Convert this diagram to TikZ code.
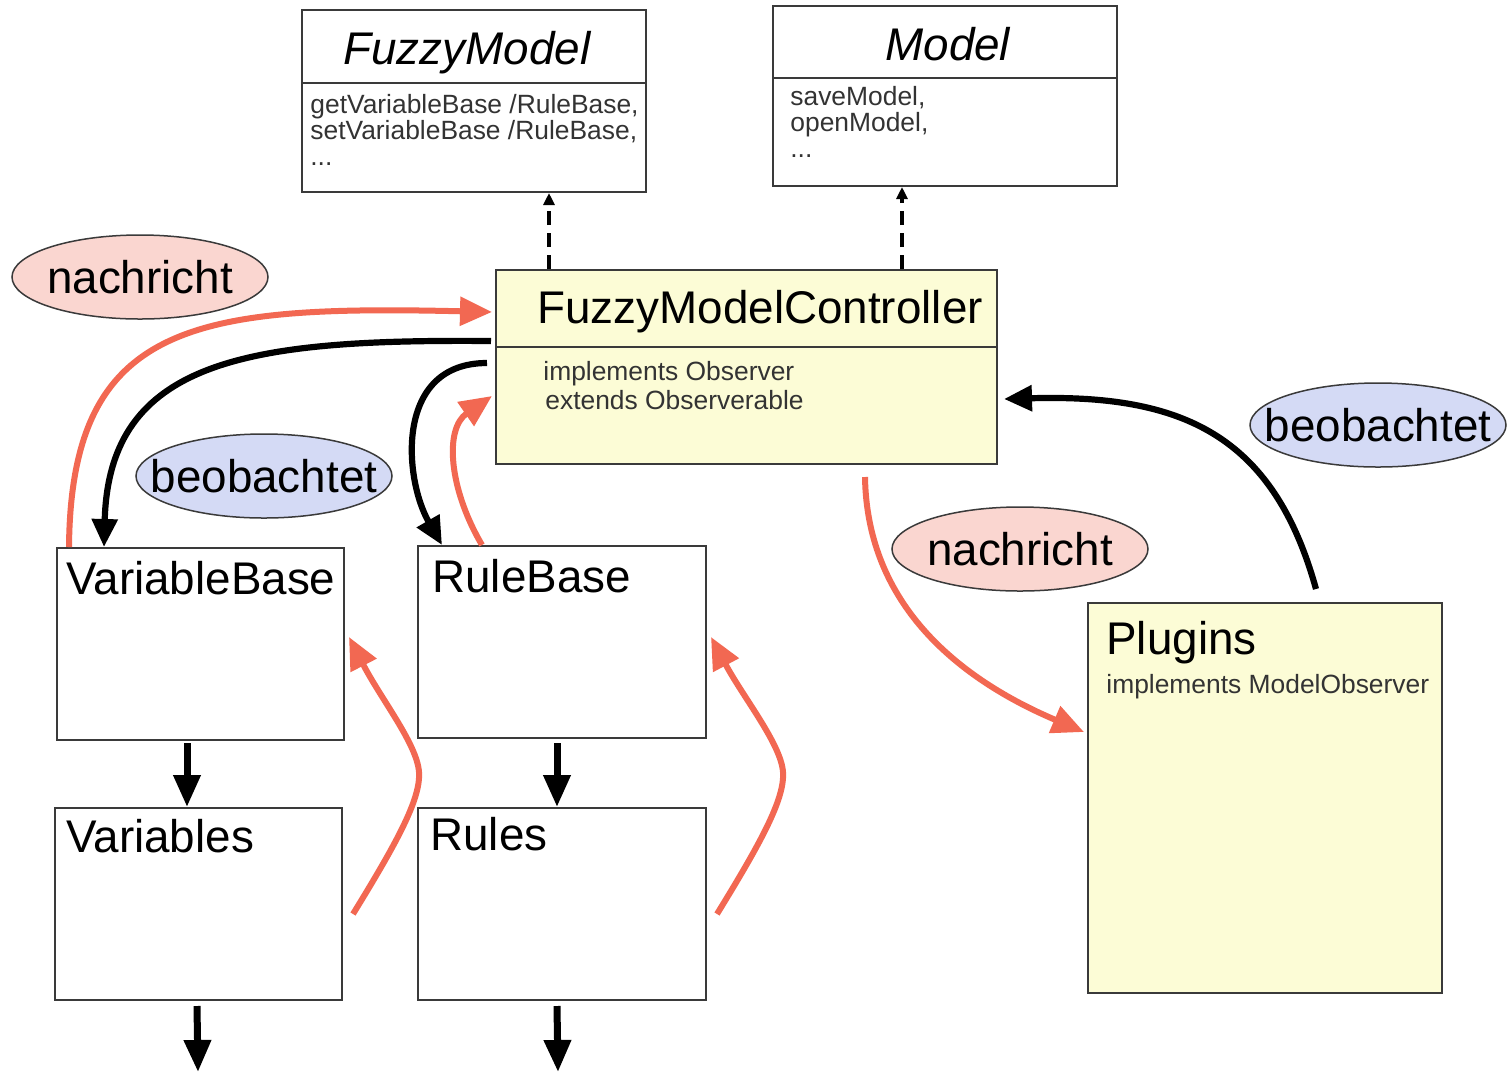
\documentclass[tikz,border=0pt]{standalone}
\usepackage{fontspec}
\setmainfont{Liberation Sans}
\usetikzlibrary{arrows.meta,shapes.geometric,calc}
\definecolor{msgred}{RGB}{242,104,82}
\definecolor{msgfill}{RGB}{250,214,208}
\definecolor{obsfill}{RGB}{212,218,245}
\definecolor{ctrlfill}{RGB}{252,252,214}
\definecolor{frame}{RGB}{58,58,58}

\begin{document}
\begin{tikzpicture}[x=0.5pt,y=-0.5pt,
  box/.style={draw=frame,line width=1pt,rectangle,inner sep=0pt,fill=white},
  divider/.style={draw=frame,line width=1pt},
  title/.style={font=\fontsize{22.9}{27}\selectfont,inner sep=0pt,anchor=base west},
  ititle/.style={font=\fontsize{22.9}{27}\selectfont\itshape,inner sep=0pt,anchor=base west},
  body/.style={font=\fontsize{13.2}{14}\selectfont,inner sep=0pt,anchor=base west,text=black!80},
  ell/.style={ellipse,draw=frame,line width=0.75pt,minimum width=128pt,minimum height=42pt,inner sep=0pt},
  etext/.style={font=\fontsize{22.9}{27}\selectfont,inner sep=0pt},
  usesarrow/.style={line width=1.6pt,dash pattern=on 7pt off 4pt,-{Triangle[length=6pt,width=5.5pt]}},
  downarrow/.style={line width=3.5pt,-{Triangle[length=16pt,width=13pt]}},
  obsarrow/.style={line width=3.1pt,-{Triangle[length=14pt,width=12.5pt]}},
  msgarrow/.style={draw=msgred,line width=3pt,-{Triangle[length=16pt,width=14pt]}}
]
\useasboundingbox (0,0) rectangle (1512,1073);
\fill[white] (0,0) rectangle (1512,1073);

% class boxes
\node[box,minimum width=172pt,minimum height=91pt] (fm) at (474,101) {};
\node[box,minimum width=172pt,minimum height=90pt] (mdl) at (945,96) {};
\node[box,fill=ctrlfill,minimum width=250.5pt,minimum height=97pt] (fmc) at (746.5,367) {};
\node[box,minimum width=143.5pt,minimum height=96pt] (vb) at (200.5,644) {};
\node[box,minimum width=144pt,minimum height=96pt] (rb) at (562,642) {};
\node[box,minimum width=143.5pt,minimum height=96pt] (vars) at (198.5,904) {};
\node[box,minimum width=144pt,minimum height=96pt] (rules) at (562,904) {};
\node[box,fill=ctrlfill,minimum width=177pt,minimum height=195pt] (plug) at (1265,798) {};

% compartment lines
\draw[divider] ($(fm.north west)+(0,74)$) -- ($(fm.north east)+(0,74)$);
\draw[divider] ($(mdl.north west)+(0,73)$) -- ($(mdl.north east)+(0,73)$);
\draw[divider] ($(fmc.north west)+(0,78)$) -- ($(fmc.north east)+(0,78)$);

% labels
\node[ititle] (fm-t) at (343,64) {FuzzyModel};
\node[body] (fm-1) at (310,113) {getVariableBase /RuleBase,};
\node[body] (fm-2) at (310,139) {setVariableBase /RuleBase,};
\node[body] (fm-3) at (310,165) {...};
\node[ititle] (mdl-t) at (885,60) {Model};
\node[body] (mdl-1) at (790,105) {saveModel,};
\node[body] (mdl-2) at (790,131) {openModel,};
\node[body] (mdl-3) at (790,157) {...};
\node[title] (fmc-t) at (537,323) {FuzzyModelController};
\node[body] (fmc-1) at (543,380) {implements Observer};
\node[body] (fmc-2) at (545,409) {extends Observerable};
\node[title] (vb-t) at (66,594) {VariableBase};
\node[title] (rb-t) at (432,592) {RuleBase};
\node[title] (vars-t) at (66,852) {Variables};
\node[title] (rules-t) at (430,850) {Rules};
\node[title] (plug-t) at (1106,654) {Plugins};
\node[body] (plug-1) at (1106,693) {implements ModelObserver};

% dependencies on the models
\draw[usesarrow] ($(fmc.north west)+(54,0)$) -- ($(fm.south west)+(248,0)$);
\draw[usesarrow] ($(fmc.north west)+(407,0)$) -- ($(mdl.south west)+(130,0)$);

% messages and observation
\draw[msgarrow] ($(vb.north west)+(13,0)$) .. controls ($(vb.north west)+(15,-225)$) and ($(fmc.north west)+(-300,36)$) .. ($(fmc.north west)+(-3,43)$);
\draw[obsarrow] ($(fmc.north west)+(-4,72)$) .. controls ($(fmc.north west)+(-246,70)$) and ($(vb.north west)+(53,-188)$) .. ($(vb.north west)+(48,0)$);
\draw[obsarrow] ($(fmc.north west)+(-8,94)$) .. controls ($(fmc.north west)+(-101,94)$) and ($(rb.north west)+(-13,-66)$) .. ($(rb.north west)+(25,0)$);
\draw[msgarrow] ($(rb.north west)+(65,0)$) .. controls ($(rb.north west)+(32,-56)$) and ($(fmc.north west)+(-51,160)$) .. ($(fmc.north west)+(-3,127)$);

\draw[msgarrow] ($(vars.north east)+(10,107)$) .. controls ($(vars.north east)+(53,37)$) and ($(vars.north east)+(78,-8)$) .. ($(vars.north east)+(76,-35)$) .. controls ($(vars.north east)+(74,-63)$) and ($(vb.north east)+(36,152)$) .. ($(vb.north east)+(4,90)$);
\draw[msgarrow] ($(rules.north east)+(10,107)$) .. controls ($(rules.north east)+(53,37)$) and ($(rules.north east)+(78,-8)$) .. ($(rules.north east)+(76,-35)$) .. controls ($(rules.north east)+(74,-63)$) and ($(rb.north east)+(36,152)$) .. ($(rb.north east)+(4,92)$);

\draw[msgarrow] ($(fmc.south west)+(370,12)$) .. controls ($(fmc.south west)+(372,140)$) and ($(plug.north west)+(-128,77)$) .. ($(plug.north west)+(-3,130)$);
\draw[obsarrow] ($(plug.north west)+(229,-13)$) .. controls ($(plug.north west)+(186,-168)$) and ($(fmc.north east)+(183,125)$) .. ($(fmc.north east)+(6,130)$);

% containment
\coordinate (varsout) at (198,1072);
\coordinate (rulesout) at (558,1072);
\draw[downarrow] ($(vb.south west)+(131,2)$) -- ($(vars.north west)+(133,0)$);
\draw[downarrow] ($(rb.south west)+(140,4)$) -- ($(rules.north west)+(140,0)$);
\draw[downarrow] ($(vars.south west)+(143,5)$) -- (varsout);
\draw[downarrow] ($(rules.south west)+(140,5)$) -- (rulesout);

% annotations
\node[ell,fill=msgfill] (msg1) at (140,277) {};
\node[etext] (msg1-t) at (msg1) {nachricht};
\node[ell,fill=obsfill] (obs1) at (264,476) {};
\node[etext] (obs1-t) at (obs1) {beobachtet};
\node[ell,fill=obsfill] (obs2) at (1378,425) {};
\node[etext] (obs2-t) at (obs2) {beobachtet};
\node[ell,fill=msgfill] (msg2) at (1020,549) {};
\node[etext] (msg2-t) at (msg2) {nachricht};
\end{tikzpicture}
\end{document}
